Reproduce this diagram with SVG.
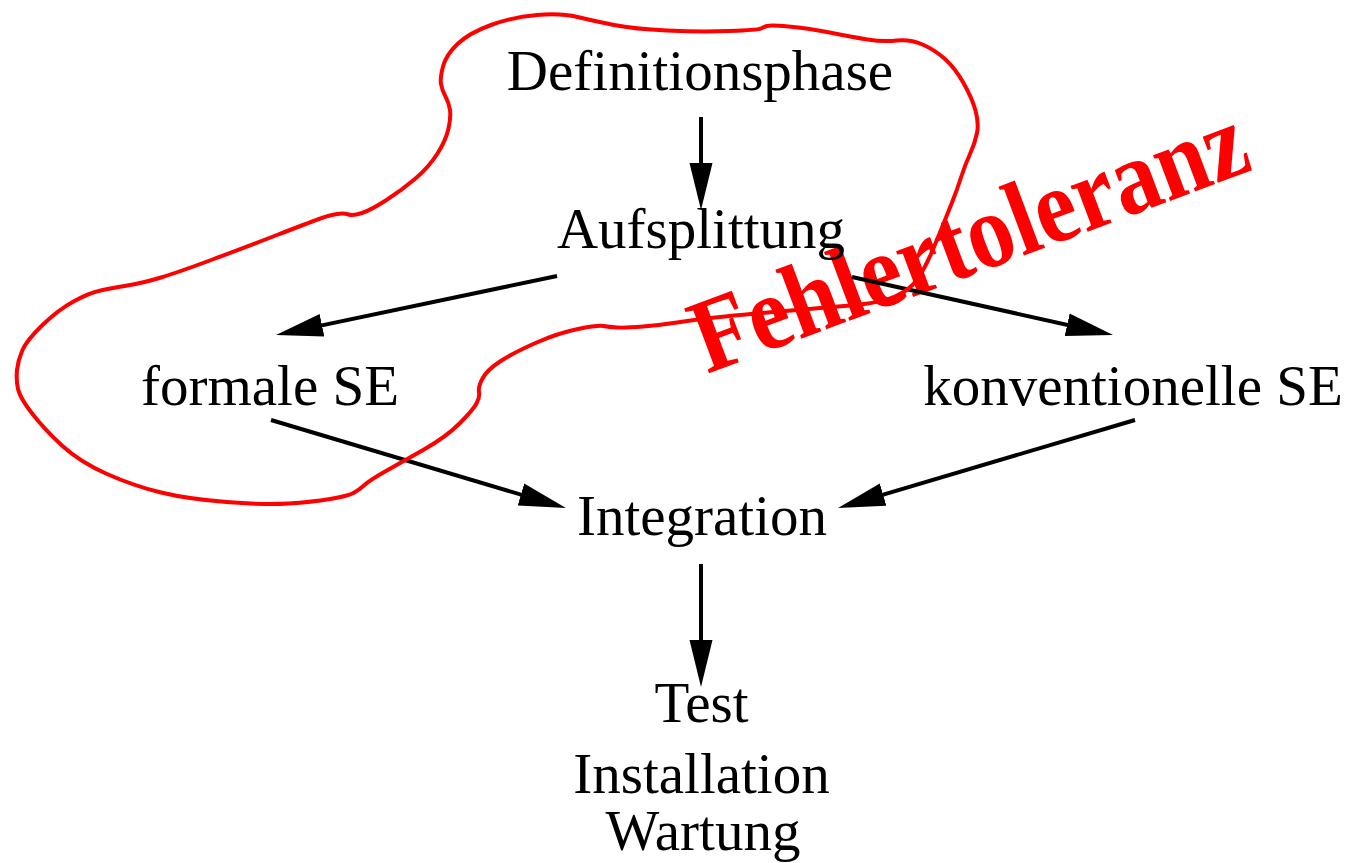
<svg xmlns="http://www.w3.org/2000/svg" width="1348" height="863" viewBox="0 0 1348 863">
<style>
.lbl{font-family:"Liberation Serif","Times New Roman",serif;font-size:57px;fill:#000;text-anchor:middle}
.edge{stroke:#000;stroke-width:4;fill:none;marker-end:url(#ah)}
.hull{stroke:#ff0000;stroke-width:4;fill:none}
.stamp{font-family:"Liberation Serif","Times New Roman",serif;font-weight:bold;font-size:106px;fill:#ff0000}
</style>
<defs>
<marker id="ah" markerUnits="userSpaceOnUse" markerWidth="48" markerHeight="24" refX="27" refY="12" orient="auto">
<path d="M0,0.5 L47,12 L0,23.5 Z" fill="#000"/>
</marker>
</defs>
<rect width="1348" height="863" fill="#fff"/>
<g id="stamp">
<text class="stamp" x="707" y="374" textLength="585" lengthAdjust="spacingAndGlyphs" transform="rotate(-20.5 707 374)">Fehlertoleranz</text>
</g>
<g id="connectors">
<line class="edge" x1="701" y1="117" x2="701" y2="190"/>
<line class="edge" x1="557" y1="276" x2="295.6" y2="330.9"/>
<line class="edge" x1="852" y1="277" x2="1093.5" y2="330.7"/>
<line class="edge" x1="271" y1="420" x2="546.8" y2="502.3"/>
<line class="edge" x1="1135" y1="420" x2="857.2" y2="502.3"/>
<line class="edge" x1="701" y1="564" x2="701" y2="667"/>
</g>
<g id="hull">
<path class="hull" d="M537,15 Q561,13 577.5,17 Q594,21 614,25 Q634,29 667,30.5 Q700,32 729,31 Q758,30 761,28.5 Q764,27 767,26 Q770,25 788.5,26.5 Q807,28 829.5,32.5 Q852,37 867.5,39.5 Q883,42 896.5,40.5 Q910,39 922.5,44.5 Q935,50 945,59 Q955,68 963.5,83 Q972,98 975.5,110.5 Q979,123 977,133 Q975,143 970,154 Q965,165 961,177.5 Q957,190 952,202.5 Q947,215 942,227.5 Q937,240 931,254 Q925,268 917.5,279 Q910,290 895,296.5 Q880,303 850,305.5 Q820,308 785,311 Q750,314 725,316.5 Q700,319 680.5,322 Q661,325 643,326.5 Q625,328 617,327.5 Q609,327 603.5,326 Q598,325 578,329 Q558,333 535.5,343 Q513,353 500,361.5 Q487,370 482.5,378.5 Q478,387 479,392 Q480,397 476.5,403.5 Q473,410 459.5,423.5 Q446,437 424,449.5 Q402,462 386,471 Q370,480 364.5,485 Q359,490 353.5,493 Q348,496 330,499 Q312,502 288.5,503.5 Q265,505 226.5,502 Q188,499 161,492.5 Q134,486 107,474 Q80,462 62.5,446 Q45,430 32.5,414 Q20,398 18,389 Q16,380 17,370 Q18,360 22.5,350 Q27,340 42.5,325 Q58,310 73.5,301.5 Q89,293 100.5,290.5 Q112,288 127.5,285.5 Q143,283 161,277.5 Q179,272 212.5,259.5 Q246,247 277,235 Q308,223 319,219 Q330,215 337,214 Q344,213 348.5,214.5 Q353,216 362,213 Q371,210 386.5,200 Q402,190 415.5,178.5 Q429,167 437.5,153.5 Q446,140 448.5,128.5 Q451,117 450,110 Q449,103 445.5,96.5 Q442,90 441,84 Q440,78 443,66.5 Q446,55 457.5,44 Q469,33 491,25 Q513,17 537,15 Z"/>
</g>
<g id="n-definitionsphase"><text class="lbl" x="700" y="90">Definitionsphase</text></g>
<g id="n-aufsplittung"><text class="lbl" x="701" y="248">Aufsplittung</text></g>
<g id="n-formale"><text class="lbl" x="270" y="405">formale SE</text></g>
<g id="n-konventionelle"><text class="lbl" x="1133" y="405">konventionelle SE</text></g>
<g id="n-integration"><text class="lbl" x="702" y="535">Integration</text></g>
<g id="n-test">
<text class="lbl" x="701.5" y="722">Test</text>
<text class="lbl" x="701.5" y="793">Installation</text>
<text class="lbl" x="703" y="850">Wartung</text>
</g>
</svg>
